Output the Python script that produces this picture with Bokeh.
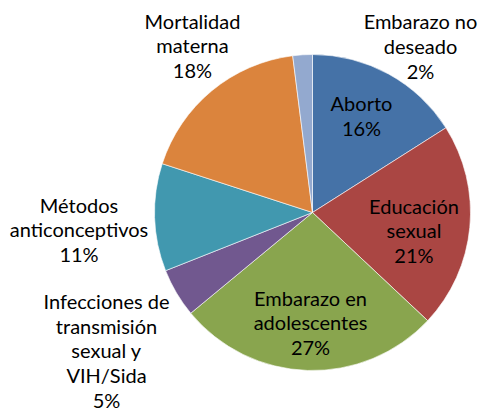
import math
from bokeh.plotting import figure
from bokeh.models import Range1d, ColumnDataSource
from bokeh.core.properties import value
from bokeh.embed import file_html
from bokeh.resources import INLINE

# ---- data ----
categories = ["Aborto", "Educación\nsexual", "Embarazo en\nadolescentes",
              "Infecciones de\ntransmisión\nsexual y\nVIH/Sida",
              "Métodos\nanticonceptivos", "Mortalidad\nmaterna",
              "Embarazo no\ndeseado"]
values = [16, 21, 27, 5, 11, 18, 2]

# ---- styles / positions ----
colors = ["#4572A7", "#AA4643", "#89A54E", "#71588F", "#4198AF", "#DB843D", "#93A9CF"]
W, H = 481, 414
cx, cy, R = 312, 202, 158
# label block centre offsets from pie centre (pixels, y up)
label_off = [(49, 97), (101.5, -18), (-2, -110), (-206, -138),
             (-233.5, -17), (-120, 167), (108, 166.5)]

total = float(sum(values))
starts, ends = [], []
cum = 0.0
for v in values:
    starts.append(math.pi / 2 - 2 * math.pi * cum / total)
    cum += v
    ends.append(math.pi / 2 - 2 * math.pi * cum / total)

src = ColumnDataSource(dict(start=starts, end=ends, color=colors))

p = figure(width=W, height=H, output_backend="svg", toolbar_location=None,
           x_range=Range1d(0, W), y_range=Range1d(0, H), min_border=0)
p.axis.visible = False
p.grid.visible = False
p.outline_line_color = None

p.wedge(x=cx, y=cy, radius=R, start_angle="start", end_angle="end",
        direction="clock", fill_color="color", line_color="white",
        line_width=0.6, source=src)

texts = ["%s\n%d%%" % (c, round(v / total * 100)) for c, v in zip(categories, values)]
lx = [cx + o[0] for o in label_off]
ly = [cy + o[1] for o in label_off]
p.text(x=lx, y=ly, text=texts, text_align="center", text_baseline="middle",
       text_font=value("Lato"), text_font_size="20px", text_color="#000000",
       text_line_height=1.04)

open("out.html", "w").write(file_html(p, INLINE))
